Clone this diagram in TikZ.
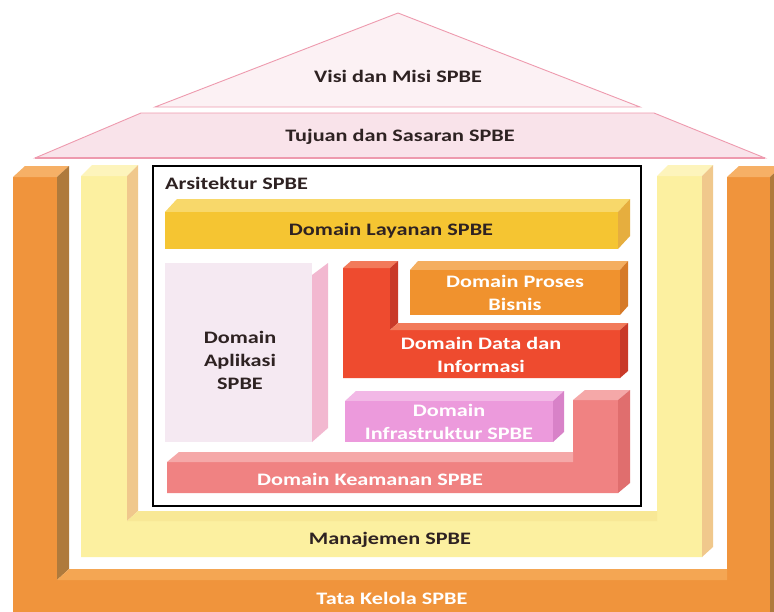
\documentclass[tikz,border=0pt]{standalone}
\usepackage{fontspec}
\setmainfont{Carlito}[FakeStretch=1.27]
\definecolor{txtdark}{HTML}{2E2222}
\definecolor{roofline}{HTML}{EE9AAE}
\definecolor{rooftop}{HTML}{FCF1F4}
\definecolor{roofmid}{HTML}{F9E3EA}
\definecolor{orfront}{HTML}{F0943C}
\definecolor{ortop}{HTML}{F6B066}
\definecolor{orside}{HTML}{AF7A3C}
\definecolor{orbar}{HTML}{F4A653}
\definecolor{yefront}{HTML}{FCF0A0}
\definecolor{yetop}{HTML}{FDF4BC}
\definecolor{yeside}{HTML}{F0C88C}
\definecolor{yebar}{HTML}{F8E896}
\definecolor{lafront}{HTML}{F5C532}
\definecolor{latop}{HTML}{F8D86A}
\definecolor{laside}{HTML}{E6AE3E}
\definecolor{apfront}{HTML}{F5E9F2}
\definecolor{apside}{HTML}{F2B8D0}
\definecolor{dafront}{HTML}{EE4B2F}
\definecolor{datop}{HTML}{F27A5A}
\definecolor{daside}{HTML}{C93A28}
\definecolor{prfront}{HTML}{F0922E}
\definecolor{prtop}{HTML}{F4AE60}
\definecolor{prside}{HTML}{D67A28}
\definecolor{infront}{HTML}{EC9ADC}
\definecolor{intop}{HTML}{F2B8E6}
\definecolor{inside}{HTML}{D882C8}
\definecolor{kefront}{HTML}{F08282}
\definecolor{ketop}{HTML}{F5A8A8}
\definecolor{keside}{HTML}{E06E6E}
\begin{document}
\begin{tikzpicture}[x=1pt,y=-1pt,
  lbl/.style={font=\bfseries\fontsize{17.5}{23}\selectfont, text=txtdark, align=center, inner sep=0pt},
  wlbl/.style={lbl, text=white},
  face/.style={draw=none}]
\useasboundingbox (0,0) rectangle (774,611);
\clip (0,0) rectangle (774,611);
\fill[white] (0,0) rectangle (774,611);

% ---------- roof ----------
\draw[roofline, line width=0.9pt, fill=rooftop] (398,13) -- (640,107) -- (155,107) -- cycle;
\draw[roofline, line width=0.9pt, fill=roofmid] (141,113) -- (654,113) -- (765,158) -- (35,158) -- cycle;
\draw[roofline, line width=1.6pt] (35,158) -- (765,158);

% ---------- Tata Kelola (orange U) ----------
\fill[orfront] (13,177) -- (57,177) -- (57,580) -- (727,580) -- (727,177) -- (770,177) -- (770,620) -- (13,620) -- cycle;
\fill[ortop] (13,177) -- (25,166) -- (69,166) -- (57,177) -- cycle;
\fill[ortop] (727,177) -- (739,166) -- (782,166) -- (770,177) -- cycle;
\fill[orside] (57,177) -- (69,166) -- (69,569) -- (57,580) -- cycle;
\fill[orbar] (57,580) -- (69,569) -- (727,569) -- (727,580) -- cycle;
\fill[orside] (770,177) -- (782,166) -- (782,609) -- (770,620) -- cycle;

% ---------- Manajemen (yellow U) ----------
\fill[yefront] (81,176) -- (127,176) -- (127,521) -- (657,521) -- (657,176) -- (702,176) -- (702,557) -- (81,557) -- cycle;
\fill[yetop] (81,176) -- (92,165) -- (138,165) -- (127,176) -- cycle;
\fill[yetop] (657,176) -- (668,165) -- (713,165) -- (702,176) -- cycle;
\fill[yeside] (127,176) -- (138,165) -- (138,511) -- (127,521) -- cycle;
\fill[yebar] (127,521) -- (138,511) -- (657,511) -- (657,521) -- cycle;
\fill[yeside] (702,176) -- (713,165) -- (713,547) -- (702,557) -- cycle;

% ---------- Arsitektur box ----------
\draw[black, line width=2.5pt, fill=white] (153,166) rectangle (641,506);

% Domain Layanan
\fill[latop] (165,212) -- (177,199) -- (630,199) -- (618,212) -- cycle;
\fill[laside] (618,212) -- (630,199) -- (630,236) -- (618,249) -- cycle;
\fill[lafront] (165,212) rectangle (618,249);

% Domain Aplikasi
\fill[apfront] (165,263) rectangle (312,442);
\fill[apside] (312,275) -- (328,263) -- (328,428) -- (312,442) -- cycle;

% Domain Data dan Informasi (L)
\fill[dafront] (343,268) -- (390,268) -- (390,330) -- (620,330) -- (620,378) -- (343,378) -- cycle;
\fill[datop] (343,268) -- (351,261) -- (398,261) -- (390,268) -- cycle;
\fill[daside] (390,268) -- (398,261) -- (398,323) -- (390,330) -- cycle;
\fill[datop] (390,330) -- (398,323) -- (628,323) -- (620,330) -- cycle;
\fill[daside] (620,330) -- (628,323) -- (628,371) -- (620,378) -- cycle;

% Domain Proses Bisnis
\fill[prtop] (410,270) -- (418,261) -- (628,261) -- (620,270) -- cycle;
\fill[prside] (620,270) -- (628,261) -- (628,306) -- (620,315) -- cycle;
\fill[prfront] (410,270) rectangle (620,315);

% Domain Infrastruktur
\fill[intop] (345,401) -- (356,391) -- (564,391) -- (553,401) -- cycle;
\fill[inside] (553,401) -- (564,391) -- (564,432) -- (553,442) -- cycle;
\fill[infront] (345,401) rectangle (553,442);

% Domain Keamanan (reverse L)
\fill[kefront] (167,462) -- (573,462) -- (573,400) -- (618,400) -- (618,493) -- (167,493) -- cycle;
\fill[ketop] (167,462) -- (179,452) -- (573,452) -- (573,462) -- cycle;
\fill[ketop] (573,400) -- (585,390) -- (630,390) -- (618,400) -- cycle;
\fill[keside] (618,400) -- (630,390) -- (630,483) -- (618,493) -- cycle;

% ---------- labels ----------
\node[lbl] (visi) at (398,76) {Visi dan Misi SPBE};
\node[lbl] (tujuan) at (400,137) {Tujuan dan Sasaran SPBE};
\node[lbl, anchor=west] (arsi) at (165,183) {Arsitektur SPBE};
\node[lbl] (layanan) at (391,231) {Domain Layanan SPBE};
\node[lbl] (aplikasi) at (240,360) {Domain\\Aplikasi\\SPBE};
\node[wlbl] (proses) at (515,293) {Domain Proses\\Bisnis};
\node[wlbl] (data) at (481,355) {Domain Data dan\\Informasi};
\node[wlbl] (infra) at (449,422) {Domain\\Infrastruktur SPBE};
\node[wlbl] (keamanan) at (370,479) {Domain Keamanan SPBE};
\node[lbl] (manajemen) at (390,540) {Manajemen SPBE};
\node[wlbl] (tata) at (392,598) {Tata Kelola SPBE};
\end{tikzpicture}
\end{document}
